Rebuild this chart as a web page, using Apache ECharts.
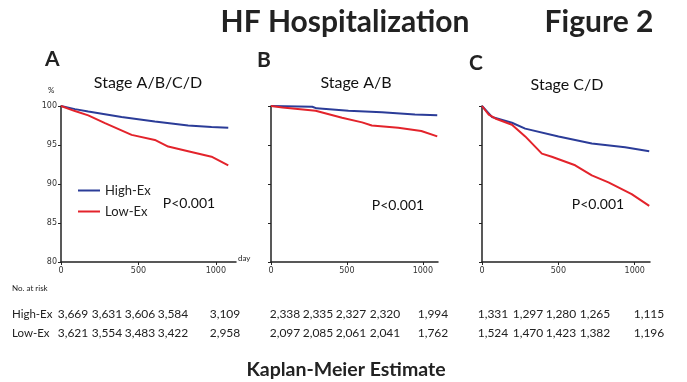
<!DOCTYPE html>
<html>
<head>
<meta charset="utf-8">
<script src="https://cdn.jsdelivr.net/npm/echarts@6/dist/echarts.min.js"></script>
<style>
  html, body { margin: 0; padding: 0; background: #fff; }
  #container { width: 687px; height: 382px; }
</style>
</head>
<body>
<div id="container"></div>
<script>
// KM curves: [day, % free of HF hospitalization]
const highA = [[0, 100], [90, 99.6], [176, 99.3], [391, 98.6], [606, 98.0], [821, 97.5], [972, 97.3], [1080, 97.2]];
const lowA = [[0, 100], [90, 99.35], [176, 98.8], [284, 97.8], [456, 96.3], [606, 95.65], [692, 94.8], [821, 94.2], [972, 93.5], [1080, 92.4]];
const highB = [[0, 100], [272, 99.9], [300, 99.7], [510, 99.4], [730, 99.2], [948, 98.9], [1095, 98.8]];
const lowB = [[0, 100], [76, 99.8], [294, 99.4], [468, 98.5], [600, 97.9], [664, 97.5], [838, 97.2], [990, 96.8], [1095, 96.1]];
const highC = [[0, 100], [65, 98.6], [196, 97.85], [283, 97.1], [501, 96.1], [719, 95.2], [937, 94.7], [1095, 94.2]];
const lowC = [[0, 100], [44, 98.9], [87, 98.4], [196, 97.6], [283, 96.1], [392, 93.9], [457, 93.5], [610, 92.4], [719, 91.1], [828, 90.2], [980, 88.7], [1095, 87.2]];

const panelLetters = ['A', 'B', 'C'];
const panelTitles = ['Stage A/B/C/D', 'Stage A/B', 'Stage C/D'];
const pValues = ['P<0.001', 'P<0.001', 'P<0.001'];

// numbers at risk
const riskHigh = ['3,669', '3,631', '3,606', '3,584', '3,109', '2,338', '2,335', '2,327', '2,320', '1,994', '1,331', '1,297', '1,280', '1,265', '1,115'];
const riskLow = ['3,621', '3,554', '3,483', '3,422', '2,958', '2,097', '2,085', '2,061', '2,041', '1,762', '1,524', '1,470', '1,423', '1,382', '1,196'];

window.onload = function () {
    const dom = document.getElementById("container");
    const myChart = echarts.init(dom);
    const font = 'Lato';
    const blue = '#2b3c98';
    const red = '#e3232b';

    const grids = [
        { left: 61, top: 106, width: 175, height: 156, max: 1130 },
        { left: 271, top: 106, width: 167, height: 156, max: 1100 },
        { left: 482, top: 106, width: 168, height: 156, max: 1100 }
    ];
    const curves = [[highA, lowA], [highB, lowB], [highC, lowC]];

    const axisLine = { show: true, lineStyle: { color: '#222', width: 1.5 } };
    const xAxis = grids.map((g, i) => ({
        type: 'value', gridIndex: i, min: 0, max: g.max, interval: 500,
        axisLine: axisLine,
        axisTick: { show: true, length: 3, lineStyle: { color: '#222' } },
        axisLabel: {
            fontSize: 8, color: '#333', margin: 5, showMaxLabel: false, fontFamily: 'DejaVu Sans',
            formatter: v => String(v)
        },
        splitLine: { show: false }
    }));
    const yAxis = grids.map((g, i) => ({
        type: 'value', gridIndex: i, min: 80, max: 100, interval: 5,
        axisLine: axisLine,
        axisTick: { show: true, length: 3, lineStyle: { color: '#222' } },
        axisLabel: { show: i === 0, fontSize: 8, color: '#333', margin: 4, fontFamily: 'DejaVu Sans' },
        splitLine: { show: false }
    }));

    const series = [];
    curves.forEach((pair, i) => {
        series.push({
            name: 'High-Ex', type: 'line', xAxisIndex: i, yAxisIndex: i,
            data: pair[0], showSymbol: false, smooth: false,
            lineStyle: { color: blue, width: 2 }, itemStyle: { color: blue }
        });
        series.push({
            name: 'Low-Ex', type: 'line', xAxisIndex: i, yAxisIndex: i,
            data: pair[1], showSymbol: false, smooth: false,
            lineStyle: { color: red, width: 2 }, itemStyle: { color: red }
        });
    });

    const graphic = [];
    const text = (x, y, str, size, opts) => graphic.push({
        type: 'text', x: x, y: y,
        style: Object.assign({
            text: str, fontSize: size, fontFamily: font, fill: '#222',
            textAlign: 'left', textVerticalAlign: 'middle'
        }, opts || {})
    });

    text(345, 22, 'HF Hospitalization', 30, { fontWeight: 'bold', textAlign: 'center' });
    text(599, 22, 'Figure 2', 30, { fontWeight: 'bold', textAlign: 'center' });

    const letterPos = [[45, 59], [257, 60], [469, 63]];
    const titlePos = [[148, 83], [356, 83], [567, 85]];
    const pPos = [[189, 203], [398, 205], [598, 204]];
    for (let i = 0; i < 3; i++) {
        text(letterPos[i][0], letterPos[i][1], panelLetters[i], 21, { fontWeight: 'bold' });
        text(titlePos[i][0], titlePos[i][1], panelTitles[i], 16, { textAlign: 'center', fill: '#111' });
        text(pPos[i][0], pPos[i][1], pValues[i], 14, { textAlign: 'center', fill: '#111' });
    }
    text(48, 90, '%', 8);
    text(238, 258, 'day', 8);

    text(12, 288, 'No. at risk', 8);
    text(12, 314, 'High-Ex', 11.5);
    text(12, 333, 'Low-Ex', 11.5);
    const colX = [73, 107, 140, 173, 225, 285, 318, 351, 385, 433, 493, 528, 561, 595, 649];
    colX.forEach((x, k) => {
        text(x, 314, riskHigh[k], 12, { textAlign: 'center' });
        text(x, 333, riskLow[k], 12, { textAlign: 'center' });
    });

    text(346, 370, 'Kaplan-Meier Estimate', 19.5, { fontWeight: 'bold', textAlign: 'center' });

    const option = {
        animation: false,
        backgroundColor: '#fff',
        grid: grids.map(g => ({ left: g.left, top: g.top, width: g.width, height: g.height })),
        xAxis: xAxis,
        yAxis: yAxis,
        legend: {
            left: 73, top: 179, orient: 'vertical', itemGap: 8,
            icon: 'rect', itemWidth: 22, itemHeight: 2,
            data: ['High-Ex', 'Low-Ex'],
            textStyle: { fontSize: 13, fontFamily: font, color: '#222' }
        },
        series: series,
        graphic: graphic
    };
    myChart.setOption(option);
};
</script>
</body>
</html>
